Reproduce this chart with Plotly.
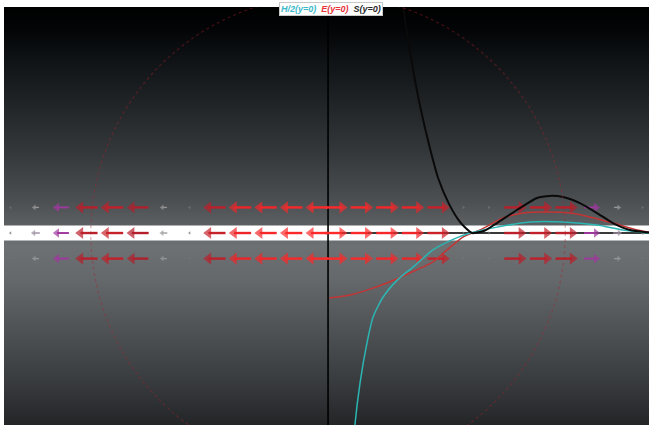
import plotly.graph_objects as go
from plotly.colors import sample_colorscale

# ---- curves along y = 0 ----
s_x = [2.85, 2.93, 3.13, 3.36, 3.63, 3.95, 4.30, 4.73, 5.16, 5.63, 6.13, 6.60, 7.38, 8.16, 8.67, 9.18, 9.84, 10.51, 11.13, 11.80, 12.54]
s_y = [9.40, 8.83, 7.54, 6.17, 4.80, 3.44, 2.15, 1.13, 0.43, 0.00, 0.10, 0.39, 0.90, 1.37, 1.45, 1.41, 1.17, 0.78, 0.39, 0.12, 0.02]

e_x = [0.05, 0.86, 1.52, 2.30, 3.20, 4.10, 4.65, 5.27, 5.94, 6.84, 7.62, 8.55, 9.45, 10.23, 11.13, 12.07, 12.54]
e_y = [-2.54, -2.42, -2.23, -1.95, -1.56, -1.13, -0.66, -0.16, 0.12, 0.59, 0.78, 0.82, 0.78, 0.63, 0.39, 0.12, 0.04]

h_x = [1.00, 1.05, 1.25, 1.52, 1.76, 2.15, 2.70, 3.32, 4.10, 4.84, 5.55, 6.60, 7.89, 9.18, 10.51, 11.52, 12.54]
h_y = [-8.20, -7.50, -5.86, -4.30, -3.28, -2.50, -1.84, -1.33, -0.66, -0.27, 0.00, 0.23, 0.43, 0.43, 0.31, 0.12, 0.00]

# ---- vector field samples (horizontal flow) ----
left_cols = [-12.43, -11.43, -10.43, -9.43, -8.43, -7.43, -6.43, -5.43, -4.43, -3.43, -2.43, -1.43, -0.43]
right_cols = [0.31, 1.31, 2.31, 3.31, 4.31, 5.31, 6.31, 7.31, 8.31, 9.31, 10.31, 11.31, 12.31]
row_y = [1.0, 0.0, -1.0]

mag_left = {
    1.0: [0.04, 0.20, 0.45, 0.63, 0.68, 0.60, 0.20, 0.05, 0.65, 0.88, 0.93, 0.96, 0.98],
    0.0: [0.05, 0.25, 0.45, 0.65, 0.70, 0.62, 0.22, 0.05, 0.70, 0.90, 0.95, 0.98, 1.00],
    -1.0: [0.04, 0.20, 0.45, 0.63, 0.68, 0.60, 0.20, 0.05, 0.65, 0.88, 0.93, 0.96, 0.98],
}
mag_right = {
    1.0: [0.98, 0.96, 0.93, 0.88, 0.70, 0.05, 0.05, 0.63, 0.66, 0.63, 0.45, 0.20, 0.05],
    0.0: [1.00, 0.98, 0.95, 0.90, 0.72, 0.05, 0.05, 0.65, 0.68, 0.65, 0.45, 0.25, 0.12],
    -1.0: [0.98, 0.96, 0.93, 0.88, 0.70, 0.05, 0.05, 0.63, 0.66, 0.63, 0.45, 0.20, 0.05],
}

circle_r = 9.27

X_RANGE = [-12.66, 12.54]
Y_RANGE = [-7.50, 8.83]

# background shading levels (y, grey)
bg_y = [-9.0, -7.5, -5.74, -3.79, -1.84, -0.47, 0.31, 1.29, 3.24, 5.2, 6.76, 7.93, 8.83, 10.0]
bg_c = ['#202224', '#232527', '#393c3f', '#4f5255', '#65686b', '#6e7174', '#5d6063',
        '#4b4f52', '#33373a', '#1f2326', '#101316', '#030507', '#000000', '#000000']

fig = go.Figure()

# gradient backdrop
lo, hi = bg_y[0], bg_y[-1]
cscale = [[(y - lo) / (hi - lo), c] for y, c in zip(bg_y, bg_c)]
fig.add_trace(go.Heatmap(
    x=[X_RANGE[0] - 1, X_RANGE[1] + 1], y=bg_y,
    z=[[y, y] for y in bg_y], zmin=lo, zmax=hi,
    colorscale=cscale, zsmooth='best', showscale=False, hoverinfo='skip'))

# faint dotted circle (drawn early so the flow sits on top)
fig.add_shape(type='circle', xref='x', yref='y', x0=-circle_r, x1=circle_r,
              y0=-circle_r, y1=circle_r, layer='above',
              line=dict(color='rgba(165,35,45,0.40)', width=1.2, dash='dot'))

# white band along y = 0
fig.add_trace(go.Scatter(
    x=[X_RANGE[0] - 1, X_RANGE[1] + 1, X_RANGE[1] + 1, X_RANGE[0] - 1],
    y=[-0.29, -0.29, 0.29, 0.29], fill='toself', fillcolor='white',
    line=dict(width=0), mode='lines', hoverinfo='skip', showlegend=False))

# vertical axis through x = 0
fig.add_trace(go.Scatter(x=[0, 0], y=[Y_RANGE[0] - 1, Y_RANGE[1] + 1], mode='lines',
                         line=dict(color='black', width=1.6), hoverinfo='skip', showlegend=False))
# dark centre line on the right half
fig.add_trace(go.Scatter(x=[0, X_RANGE[1] + 1], y=[0, 0], mode='lines',
                         line=dict(color='#3a3a3a', width=2.2), hoverinfo='skip', showlegend=False))

arrow_scale = [[0.0, '#6a6a6a'], [0.22, '#9c9c9c'], [0.42, '#9b3db5'],
               [0.6, '#b01f2c'], [0.78, '#d92228'], [1.0, '#ff2a2a']]

head_x, head_y, head_sym, head_size, head_col = [], [], [], [], []
for y in row_y:
    for cols, mags, d in ((left_cols, mag_left[y], -1), (right_cols, mag_right[y], 1)):
        for xc, m in zip(cols, mags):
            f = min(1.0, m * 1.6)
            L = 0.85 * f
            col = sample_colorscale(arrow_scale, [m])[0]
            tip = xc + d * L / 2
            tail = xc - d * L / 2
            hs = 2.5 + 8 * f
            hl = hs * 0.45 / 25.6
            fig.add_trace(go.Scatter(
                x=[tail, tip - d * hl], y=[y, y], mode='lines',
                line=dict(color=col, width=0.8 + 1.6 * f),
                hoverinfo='skip', showlegend=False))
            head_x.append(tip - d * hl)
            head_y.append(y)
            head_sym.append('triangle-left' if d < 0 else 'triangle-right')
            head_size.append(hs)
            head_col.append(col)

fig.add_trace(go.Scatter(
    x=head_x, y=head_y, mode='markers', hoverinfo='skip', showlegend=False,
    marker=dict(symbol=head_sym, size=head_size, color=head_col, line=dict(width=0))))

# curves
fig.add_trace(go.Scatter(x=e_x, y=e_y, mode='lines', name='E(y=0)',
                         line=dict(color='#c23535', width=1.5, shape='spline', smoothing=0.6)))
fig.add_trace(go.Scatter(x=h_x, y=h_y, mode='lines', name='H/2(y=0)',
                         line=dict(color='#2bb5b3', width=1.5, shape='spline', smoothing=0.6)))
fig.add_trace(go.Scatter(x=s_x, y=s_y, mode='lines', name='S(y=0)',
                         line=dict(color='#0a0a0a', width=2, shape='spline', smoothing=0.6)))

legend_text = ("<b><i><span style='color:#3bb9c9'>H/2(y=0)</span>  "
               "<span style='color:#e8333a'>E(y=0)</span>  "
               "<span style='color:#2a2a2a'>S(y=0)</span></i></b>")
fig.add_annotation(xref='paper', yref='paper', x=0.507, y=1.0 - 2 / 418,
                   xanchor='center', yanchor='middle', text=legend_text, showarrow=False,
                   font=dict(family='Liberation Sans, Arial, sans-serif', size=9),
                   bgcolor='white', bordercolor='#c8c8c8', borderwidth=1, borderpad=1)

fig.update_layout(
    width=649, height=425,
    margin=dict(l=4, r=0, t=7, b=0),
    paper_bgcolor='white', plot_bgcolor='black',
    showlegend=False,
    xaxis=dict(range=X_RANGE, visible=False, showgrid=False, zeroline=False, fixedrange=True),
    yaxis=dict(range=Y_RANGE, visible=False, showgrid=False, zeroline=False, fixedrange=True),
)

fig.write_html("out.html")
